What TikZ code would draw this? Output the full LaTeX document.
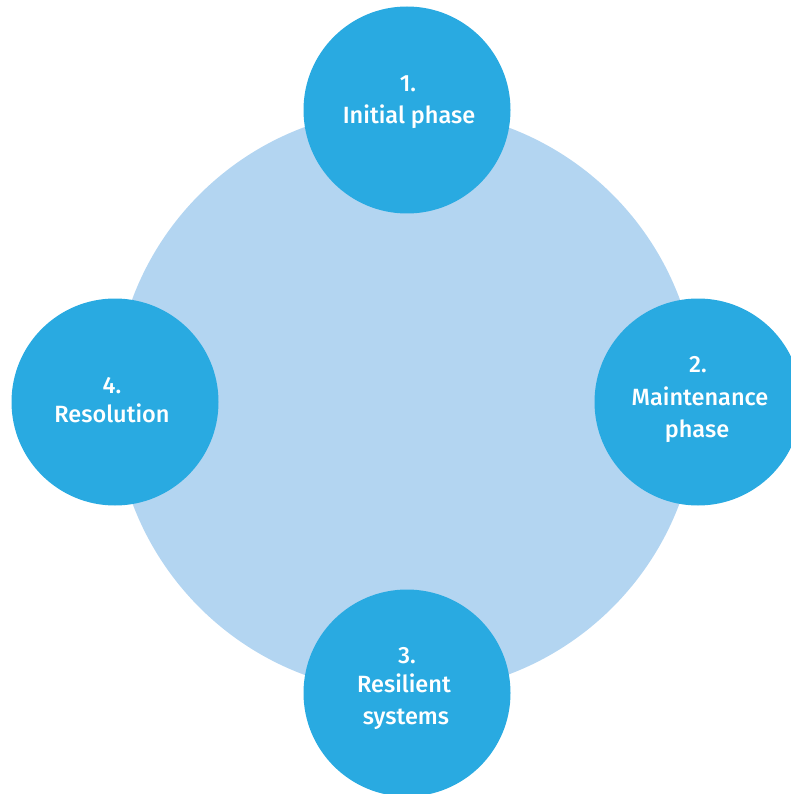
\documentclass[tikz,border=0pt]{standalone}
\usepackage{fontspec}
\setmainfont{Fira Sans}[UprightFont={* Medium}]
\definecolor{darkblue}{HTML}{29AAE1}
\definecolor{lightblue}{HTML}{B3D5F1}
\begin{document}
\begin{tikzpicture}[x=1pt,y=-1pt,
  phase/.style={circle,fill=darkblue,minimum size=207pt,inner sep=0pt},
  lbl/.style={text=white,anchor=base,inner sep=0pt,font=\fontsize{23.5}{28}\selectfont}]
\useasboundingbox (0,0) rectangle (791,794);
\node[circle,fill=lightblue,minimum size=584pt,inner sep=0pt] (big) at (406,401) {};
\node[phase] (c1) at (407,110) {};
\node[phase] (c2) at (698,402) {};
\node[phase] (c3) at (407,693) {};
\node[phase] (c4) at (115,402) {};
\node[lbl] (t1a) at (408,92) {1.};
\node[lbl] (t1b) at (409,124) {Initial phase};
\node[lbl] (t2a) at (698,372) {2.};
\node[lbl] (t2b) at (700,405) {Maintenance};
\node[lbl] (t2c) at (697,437) {phase};
\node[lbl] (t3a) at (407,663) {3.};
\node[lbl] (t3b) at (404,692) {Resilient};
\node[lbl] (t3c) at (406,724) {systems};
\node[lbl] (t4a) at (112,393) {4.};
\node[lbl] (t4b) at (112,422) {Resolution};
\end{tikzpicture}
\end{document}
